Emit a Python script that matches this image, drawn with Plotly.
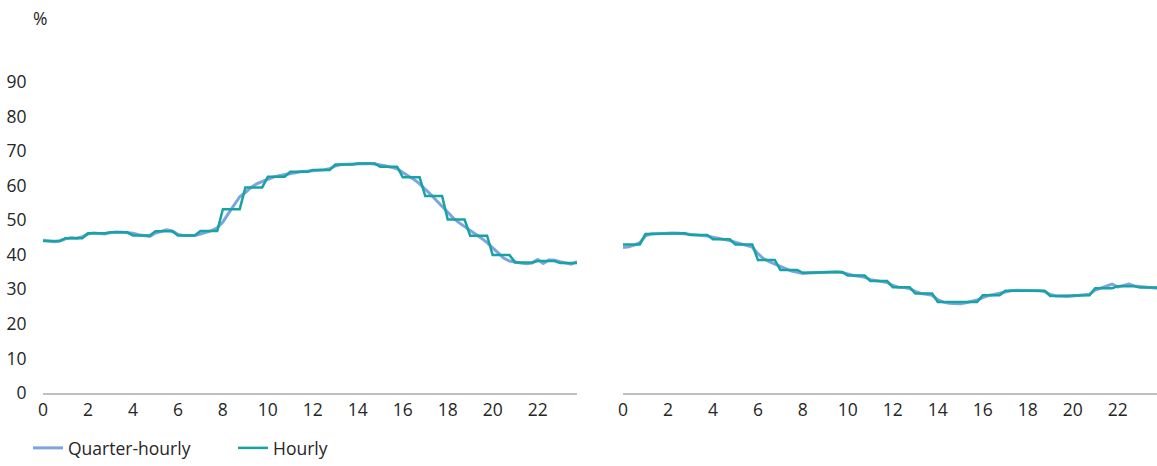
import numpy as np
import plotly.graph_objects as go

# ---------------- data ----------------
hours_q = [i * 0.25 for i in range(96)]          # quarter-hour positions 0 .. 23.75
tick_vals = [0, 2, 4, 6, 8, 10, 12, 14, 16, 18, 20, 22]
tick_text = ["0", "2", "4", "6", "8", "10", "12", "14", "16", "18", "20", "22"]
y_ticks = [0, 10, 20, 30, 40, 50, 60, 70, 80, 90]

# Left panel
left_hourly = [44.0, 44.8, 46.2, 46.5, 45.6, 46.8, 45.6, 46.9, 53.2, 59.5, 62.6, 64.0,
               64.5, 66.1, 66.4, 65.5, 62.4, 57.0, 50.2, 45.5, 39.9, 37.8, 38.2, 37.6]
left_quarter = [
    44.2, 43.9, 43.8, 44.0,   44.6, 44.9, 44.8, 45.2,   46.0, 46.3, 46.2, 46.0,
    46.4, 46.6, 46.5, 46.4,   46.2, 45.8, 45.5, 45.3,   46.3, 46.8, 47.2, 46.9,
    45.9, 45.6, 45.5, 45.6,   46.0, 46.4, 47.0, 47.8,   49.5, 52.0, 54.5, 56.8,
    58.0, 59.5, 60.5, 61.2,   61.8, 62.5, 62.9, 63.2,   63.7, 64.0, 64.1, 64.2,
    64.3, 64.5, 64.6, 64.9,   65.7, 66.1, 66.2, 66.3,   66.4, 66.5, 66.4, 66.3,
    66.1, 65.7, 65.3, 64.9,   63.8, 62.8, 61.8, 60.5,   59.0, 57.4, 55.7, 54.0,
    52.3, 50.6, 49.3, 48.2,   47.2, 46.0, 44.8, 43.5,   42.0, 40.3, 39.0, 38.2,
    37.8, 37.6, 37.4, 37.6,   38.6, 37.5, 38.5, 38.4,   38.0, 37.6, 37.3, 38.0]

# Right panel
right_hourly = [43.0, 46.0, 46.2, 45.7, 44.5, 43.0, 38.5, 35.6, 34.8, 35.0, 34.0, 32.4,
                30.6, 28.8, 26.3, 26.3, 28.3, 29.6, 29.6, 28.1, 28.3, 30.3, 30.9, 30.5]
right_quarter = [
    42.1, 42.3, 42.8, 43.5,   45.5, 46.0, 46.1, 46.2,   46.3, 46.3, 46.2, 46.1,
    45.9, 45.7, 45.6, 45.4,   45.0, 44.7, 44.4, 44.1,   43.6, 43.2, 42.8, 42.2,
    40.3, 38.9, 38.0, 37.3,   36.6, 35.9, 35.3, 34.9,   34.6, 34.7, 34.8, 35.0,
    35.0, 35.1, 35.1, 34.9,   34.4, 34.0, 33.8, 33.5,   32.8, 32.5, 32.3, 32.0,
    31.1, 30.6, 30.5, 30.2,   29.4, 28.8, 28.6, 28.3,   27.0, 26.3, 26.0, 25.8,
    25.8, 26.1, 26.4, 26.9,   27.6, 28.2, 28.5, 28.9,   29.4, 29.6, 29.7, 29.7,
    29.7, 29.6, 29.6, 29.4,   28.5, 28.1, 27.9, 27.9,   28.1, 28.3, 28.4, 28.6,
    29.8, 30.4, 30.8, 31.5,   30.7, 31.0, 31.5, 31.0,   30.8, 30.6, 30.5, 30.3]

series_names = ["Quarter-hourly", "Hourly"]
unit_label = "%"

# ---------------- styles ----------------
C_Q = "#5B8FD6"
C_H = "#17A2A6"
FONT = "Open Sans"
FS = 17.5
TXT = "#262626"

W, H = 1157, 466
ML, MR, MT, MB = 43, 0, 82, 73
plot_w = W - ML - MR
plot_h = H - MT - MB
left_dom = [0, 534 / plot_w]
right_dom = [580 / plot_w, 1]

fig = go.Figure()

panels = [("x", "y", left_quarter, left_hourly, True),
          ("x2", "y2", right_quarter, right_hourly, False)]
for xa, ya, q, h, show in panels:
    fig.add_trace(go.Scatter(x=hours_q, y=q, mode="lines", name=series_names[0],
                             line=dict(color=C_Q, width=3), opacity=0.8,
                             xaxis=xa, yaxis=ya, showlegend=show, legendgroup="q"))
    fig.add_trace(go.Scatter(x=hours_q, y=np.repeat(h, 4), mode="lines", name=series_names[1],
                             line=dict(color=C_H, width=2.5),
                             xaxis=xa, yaxis=ya, showlegend=show, legendgroup="h"))

xcommon = dict(range=[0, 23.75], tickmode="array", tickvals=tick_vals, ticktext=tick_text,
               showgrid=False, zeroline=False, showline=True, linecolor="#BFBFBF", linewidth=1.5,
               ticks="", tickfont=dict(family=FONT, size=FS, color=TXT), fixedrange=True)
ycommon = dict(range=[0, 90], tickmode="array", tickvals=y_ticks, showgrid=False,
               zeroline=False, showline=False, fixedrange=True)

fig.update_layout(
    width=W, height=H,
    margin=dict(l=ML, r=MR, t=MT, b=MB, autoexpand=False),
    paper_bgcolor="white", plot_bgcolor="white",
    font=dict(family=FONT, size=FS, color=TXT),
    xaxis=dict(domain=left_dom, anchor="y", **xcommon),
    xaxis2=dict(domain=right_dom, anchor="y2", **xcommon),
    yaxis=dict(anchor="x", ticks="outside", ticklen=12, tickcolor="rgba(0,0,0,0)",
               tickfont=dict(family=FONT, size=FS, color=TXT), **ycommon),
    yaxis2=dict(anchor="x2", showticklabels=False, matches="y", **ycommon),
    legend=dict(orientation="h", yref="container", xref="container",
                x=28 / W, xanchor="left", y=0, yanchor="bottom",
                font=dict(family=FONT, size=FS, color=TXT),
                itemwidth=30, entrywidth=160, tracegroupgap=0, bgcolor="rgba(0,0,0,0)"),
    annotations=[dict(text=unit_label, xref="paper", yref="paper",
                      x=-3 / plot_w, y=(H - MB - 18) / plot_h, xanchor="center",
                      yanchor="middle", showarrow=False,
                      font=dict(family=FONT, size=FS, color=TXT))],
)

fig.write_html("out.html", config={"displayModeBar": False},
               post_script="document.body.style.margin='0';document.body.style.overflow='hidden';")
